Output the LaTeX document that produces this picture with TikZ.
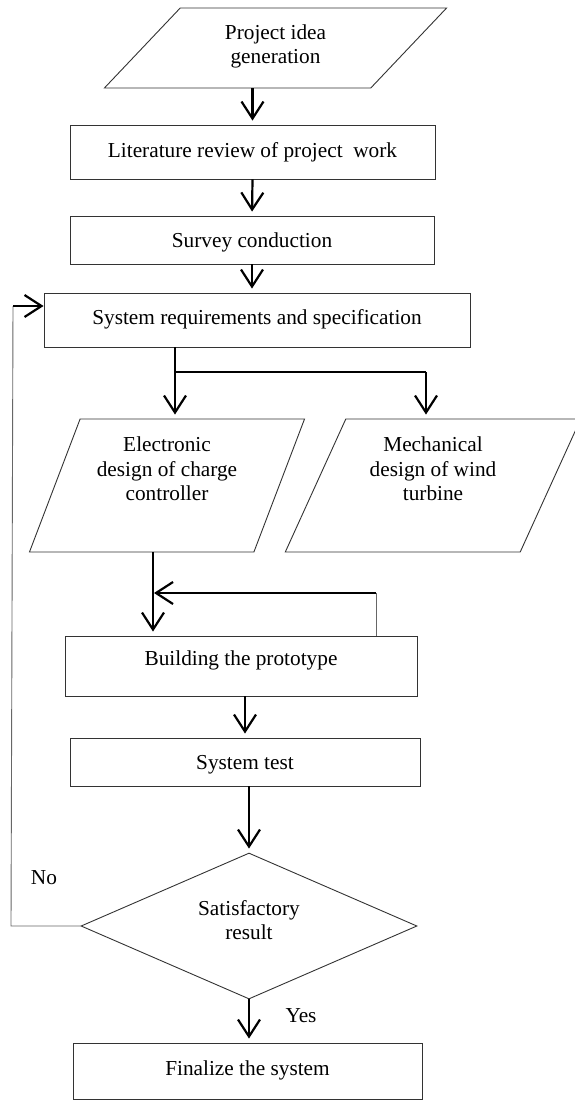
\documentclass[tikz,border=0pt]{standalone}
\usepackage{fontspec}
\setmainfont{Liberation Serif}
\usetikzlibrary{shapes.geometric,arrows.meta}
\begin{document}
\begin{tikzpicture}[x=1pt,y=-1pt,
  font=\fontsize{21.3}{24.5}\selectfont,
  box/.style={draw=black!80, line width=0.9pt, rectangle, inner sep=0pt, align=center, text height=19.5pt},
  para/.style={draw=black!80, line width=0.9pt, trapezium, trapezium stretches=true, inner sep=0pt, align=center},
  dia/.style={draw=black!80, line width=0.9pt, diamond, inner sep=0pt, align=center},
  arr/.style={line width=2.2pt, -{Straight Barb[length=17pt,width=22pt]}, shorten >=4pt},
  arrend/.style={line width=2.2pt, -{Straight Barb[length=17pt,width=22pt]}},
  thinline/.style={line width=1.1pt, draw=black},
  fb/.style={line width=0.9pt, draw=black!60},
  lbl/.style={inner sep=0pt}
]
\useasboundingbox (0,0) rectangle (575,1101);

% nodes
\node[para, trapezium left angle=49.6, trapezium right angle=130.4,
      minimum width=343pt, minimum height=80pt, text depth=8pt]
      (idea) at (275.5,48) {Project idea\\generation};
\node[box, minimum width=365pt, minimum height=54pt, text depth=8.6pt]
      (lit) at (252.5,152) {Literature review of project\ \ work};
\node[box, minimum width=364pt, minimum height=48pt, text depth=4.6pt]
      (survey) at (252,240) {Survey conduction};
\node[box, minimum width=426pt, minimum height=54pt, text depth=10.6pt]
      (req) at (257,320) {System requirements and specification};
\node[para, trapezium left angle=67.2, trapezium right angle=112.8,
      minimum width=276pt, minimum height=133pt, text depth=33.5pt]
      (elec) at (167,485.5) {Electronic\\design of charge\\controller};
\node[para, trapezium left angle=65.7, trapezium right angle=114.3,
      minimum width=296pt, minimum height=133pt, text depth=33.5pt]
      (mech) at (433,485.5) {Mechanical\\design of wind\\turbine};
\node[box, minimum width=352pt, minimum height=60pt, text depth=20.6pt]
      (build) at (241,666) {Building the prototype};
\node[box, minimum width=350pt, minimum height=48pt, text depth=4.6pt]
      (test) at (245,762) {System test};
\node[dia, minimum width=336pt, minimum height=146pt, aspect=2.3, text depth=12.5pt]
      (sat) at (249,926) {Satisfactory\\result};
\node[box, minimum width=349pt, minimum height=56pt, text depth=10.6pt]
      (final) at (247.5,1071) {Finalize the system};

\node[lbl] (no) at (44,878) {No};
\node[lbl] (yes) at (301,1016) {Yes};

% helper coordinates
\coordinate (br) at (175,372);
\coordinate (bm) at (426,372);
\coordinate (ex) at (153,552);
\coordinate (fr) at (376,593);
\coordinate (fl) at (154,593);
\coordinate (n1) at (11,926);
\coordinate (n2) at (13,306);

% connectors
\draw[arr] (idea.south -| lit.north) -- (lit.north);
\draw[arr] (lit.south) -- (survey.north);
\draw[arr] (survey.south) -- (survey.south |- req.north);
\draw[line width=2.2pt] (req.south -| br) -- (br);
\draw[arr] (br) -- (br |- elec.north);
\draw[thinline] (br) -- (bm);
\draw[arr] (bm) -- (bm |- mech.north);
\draw[arr] (ex) -- (ex |- build.north);
\draw[fb] (fr |- build.north) -- (fr);
\draw[arrend] (fr) -- (fl);
\draw[arr] (build.south -| test.north) -- (test.north);
\draw[arr] (test.south -| sat.north) -- (sat.north);
\draw[arr] (sat.south) -- (final.north -| sat.south);
\draw[fb] (sat.west) -- (n1) -- (n2);
\draw[arrend] (n2) -- (n2 -| req.west);
\end{tikzpicture}
\end{document}
